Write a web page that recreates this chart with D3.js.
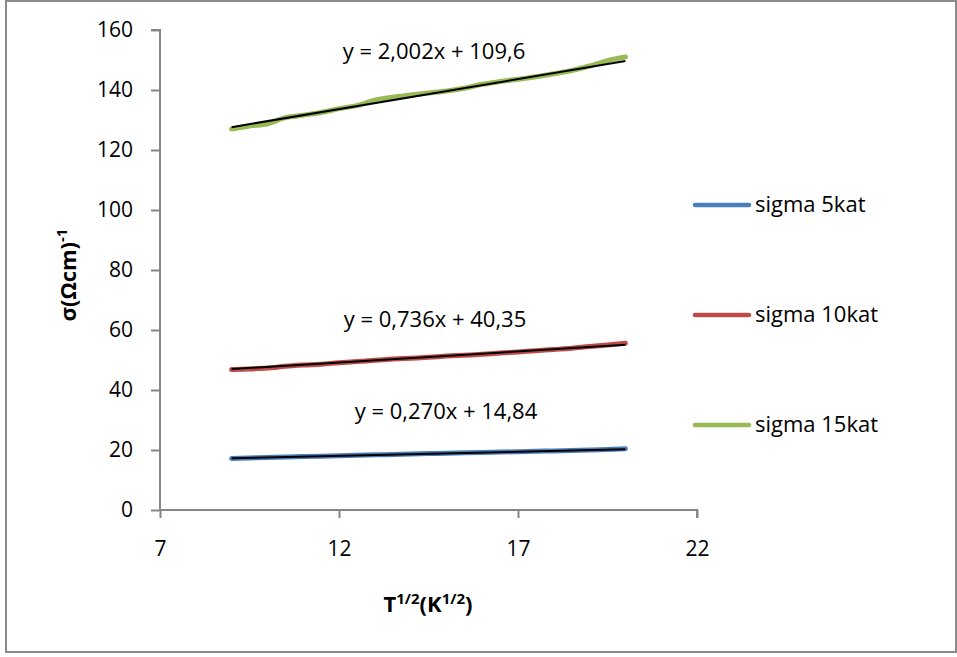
<!DOCTYPE html>
<html>
<head>
<meta charset="utf-8">
<script src="https://cdn.jsdelivr.net/npm/d3@7"></script>
<style>
  html, body { margin: 0; padding: 0; background: #fff; }
  text { font-family: "Open Sans", "Noto Sans", sans-serif; fill: #000; }
</style>
</head>
<body>
<svg id="chart" width="957" height="657"></svg>
<script>
// ---- data ----
const tValues = [9, 9.5, 10, 10.5, 11, 11.5, 12, 12.5, 13, 13.5, 14, 14.5, 15, 15.5, 16, 16.5, 17, 17.5, 18, 18.5, 19, 19.5, 20];
const sigma5kat = [17.2, 17.35, 17.5, 17.7, 17.8, 17.95, 18.1, 18.25, 18.4, 18.5, 18.65, 18.8, 18.9, 19.05, 19.2, 19.3, 19.45, 19.6, 19.7, 19.85, 20.0, 20.2, 20.45];
const sigma10kat = [46.8, 47.0, 47.3, 47.9, 48.3, 48.6, 49.1, 49.5, 49.9, 50.3, 50.6, 50.9, 51.3, 51.6, 51.9, 52.3, 52.7, 53.1, 53.5, 53.9, 54.5, 55.0, 55.6];
const sigma15kat = [127.0, 128.0, 128.7, 130.8, 131.6, 132.5, 133.8, 134.8, 136.6, 137.6, 138.3, 139.0, 139.7, 140.6, 141.9, 142.8, 143.6, 144.4, 145.4, 146.5, 148.0, 149.8, 151.0];
const seriesNames = ["sigma 5kat", "sigma 10kat", "sigma 15kat"];
const seriesColors = ["#4A7EBB", "#BE4B48", "#98B954"];
const trendSlopes = [0.270, 0.736, 2.002];
const trendIntercepts = [14.84, 40.35, 109.6];
const trendLabels = ["y = 0,270x + 14,84", "y = 0,736x + 40,35", "y = 2,002x + 109,6"];
const xTicks = [7, 12, 17, 22];
const yTicks = [0, 20, 40, 60, 80, 100, 120, 140, 160];

const svg = d3.select("#chart");
const x = d3.scaleLinear().domain([7, 22]).range([160, 697]);
const y = d3.scaleLinear().domain([0, 160]).range([510, 30]);

// outer border
svg.append("rect").attr("x", 6).attr("y", 1).attr("width", 950).attr("height", 651)
  .attr("fill", "#fff").attr("stroke", "#8a8a8a").attr("stroke-width", 2);

const axisColor = "#868686";
// y axis
const yAxis = svg.append("g").attr("transform", "translate(160,0)")
  .call(d3.axisLeft(y).tickValues(yTicks).tickSize(9).tickPadding(18).tickFormat(d3.format("d")));
// x axis
const xAxis = svg.append("g").attr("transform", "translate(0,510)")
  .call(d3.axisBottom(x).tickValues(xTicks).tickSize(8).tickPadding(23).tickFormat(d3.format("d")));
[yAxis, xAxis].forEach(g => {
  g.select(".domain").attr("stroke", axisColor).attr("stroke-width", 2);
  g.selectAll(".tick line").attr("stroke", axisColor).attr("stroke-width", 2);
  g.selectAll(".tick text").attr("font-size", 21).attr("font-family", "Open Sans, sans-serif").attr("fill", "#000");
});
yAxis.select(".domain").attr("d", `M-9,${y(160)}H0V${y(0)}`);
xAxis.select(".domain").attr("d", `M${x(7)},0H${x(22)}V8`);

// series
const allSeries = [sigma5kat, sigma10kat, sigma15kat];
const line = d3.line().x(d => x(d[0])).y(d => y(d[1])).curve(d3.curveMonotoneX);
allSeries.forEach((vals, i) => {
  svg.append("path")
    .datum(tValues.map((t, j) => [t, vals[j]]))
    .attr("d", line)
    .attr("fill", "none").attr("stroke", seriesColors[i])
    .attr("stroke-width", 5).attr("stroke-linecap", "round").attr("stroke-linejoin", "round");
});
// trendlines
const tMin = d3.min(tValues), tMax = d3.max(tValues);
allSeries.forEach((vals, i) => {
  const pts = [tMin, tMax].map(t => [t, trendSlopes[i] * t + trendIntercepts[i]]);
  svg.append("path").datum(pts)
    .attr("d", d3.line().x(d => x(d[0])).y(d => y(d[1])))
    .attr("fill", "none").attr("stroke", "#000").attr("stroke-width", 2);
});

// trend labels
const labelPos = [[446, 419], [435, 327], [434, 59]];
trendLabels.forEach((lab, i) => {
  svg.append("text").attr("x", labelPos[i][0]).attr("y", labelPos[i][1])
    .attr("text-anchor", "middle").attr("font-size", 22).text(lab);
});

// legend
seriesNames.forEach((name, i) => {
  const ly = 205 + i * 110;
  svg.append("line").attr("x1", 695).attr("x2", 749).attr("y1", ly).attr("y2", ly)
    .attr("stroke", seriesColors[i]).attr("stroke-width", 4.5).attr("stroke-linecap", "round");
  svg.append("text").attr("x", 755).attr("y", ly + 7).attr("font-size", 22).text(name);
});

// axis titles
const yt = svg.append("text").attr("transform", "translate(76,275) rotate(-90)")
  .attr("text-anchor", "middle").attr("font-size", 22).attr("font-weight", "bold");
yt.append("tspan").text("σ(Ωcm)");
yt.append("tspan").attr("font-size", 15).attr("dy", -9).text("-1");

const xt = svg.append("text").attr("x", 428).attr("y", 612)
  .attr("text-anchor", "middle").attr("font-size", 22).attr("font-weight", "bold");
xt.append("tspan").text("T");
xt.append("tspan").attr("font-size", 15).attr("dy", -8).text("1/2");
xt.append("tspan").attr("dy", 8).text("(K");
xt.append("tspan").attr("font-size", 15).attr("dy", -8).text("1/2");
xt.append("tspan").attr("dy", 8).text(")");
</script>
</body>
</html>
